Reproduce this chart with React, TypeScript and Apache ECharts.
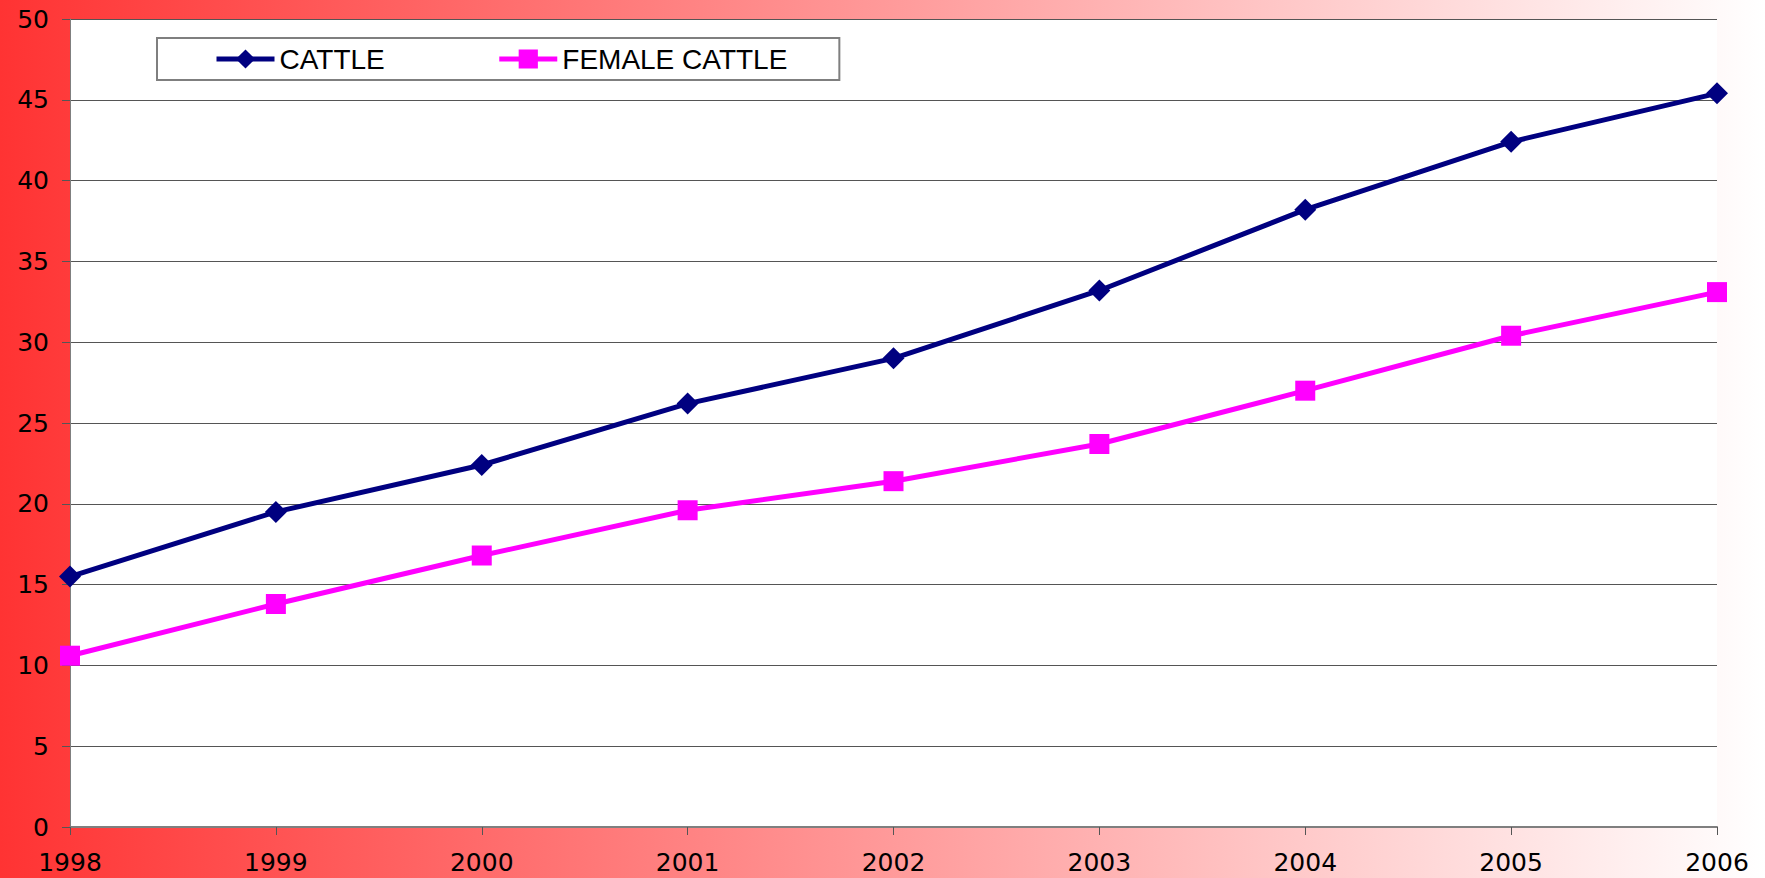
import React, { useEffect, useRef } from "react";
import * as echarts from "echarts";

const years = ["1998", "1999", "2000", "2001", "2002", "2003", "2004", "2005", "2006"];
const cattle = [15.5, 19.5, 22.4, 26.2, 29.0, 33.2, 38.2, 42.4, 45.4];
const femaleCattle = [10.6, 13.8, 16.8, 19.6, 21.4, 23.7, 27.0, 30.4, 33.1];
const seriesNames = ["CATTLE", "FEMALE CATTLE"];

const FONT = "'Liberation Sans', Arial, sans-serif";
const NUM_FONT = "'DejaVu Sans', 'Liberation Sans', sans-serif";

export default function App() {
  const ref = useRef<HTMLDivElement>(null);
  useEffect(() => {
    if (!ref.current) return;
    const chart = echarts.init(ref.current, undefined, { renderer: "svg" });
    chart.setOption({
      animation: false,
      backgroundColor: "transparent",
      grid: {
        left: 70,
        right: 48,
        top: 19,
        bottom: 51,
        show: true,
        backgroundColor: "#ffffff",
        borderWidth: 0,
      },
      legend: {
        left: 157,
        top: 38,
        data: seriesNames,
        backgroundColor: "#ffffff",
        borderColor: "#7f7f7f",
        borderWidth: 2,
        padding: [7, 52, 7, 57],
        itemWidth: 58,
        itemHeight: 24,
        itemGap: 112,
        lineStyle: { width: 5 },
        textStyle: { fontFamily: FONT, fontSize: 28, color: "#000", lineHeight: 24 },
      },
      xAxis: {
        type: "category",
        data: years,
        boundaryGap: false,
        axisLine: { show: true, lineStyle: { color: "#7f7f7f", width: 2 } },
        axisTick: { show: true, length: 8, lineStyle: { color: "#555", width: 1 } },
        axisLabel: { fontFamily: NUM_FONT, fontSize: 25, color: "#000", margin: 23 },
        splitLine: { show: false },
      },
      yAxis: {
        type: "value",
        min: 0,
        max: 50,
        interval: 5,
        axisLine: { show: true, lineStyle: { color: "#7f7f7f", width: 1 } },
        axisTick: { show: true, length: 8, lineStyle: { color: "#555", width: 1 } },
        axisLabel: { fontFamily: NUM_FONT, fontSize: 25, color: "#000", margin: 21 },
        splitLine: { show: true, lineStyle: { color: "#555", width: 1 } },
      },
      series: [
        {
          name: seriesNames[0],
          type: "line",
          data: cattle,
          symbol: "diamond",
          symbolSize: [22, 22],
          lineStyle: { color: "#000080", width: 5 },
          itemStyle: { color: "#000080" },
        },
        {
          name: seriesNames[1],
          type: "line",
          data: femaleCattle,
          symbol: "rect",
          symbolSize: [20, 20],
          lineStyle: { color: "#ff00ff", width: 5 },
          itemStyle: { color: "#ff00ff" },
        },
      ],
    });
    return () => chart.dispose();
  }, []);
  return (
    <div
      ref={ref}
      style={{
        position: "fixed",
        left: 0,
        top: 0,
        width: 1765,
        height: 878,
        background: "linear-gradient(to right, #ff3333 0%, #ff9999 50%, #ffffff 100%)",
      }}
    />
  );
}
